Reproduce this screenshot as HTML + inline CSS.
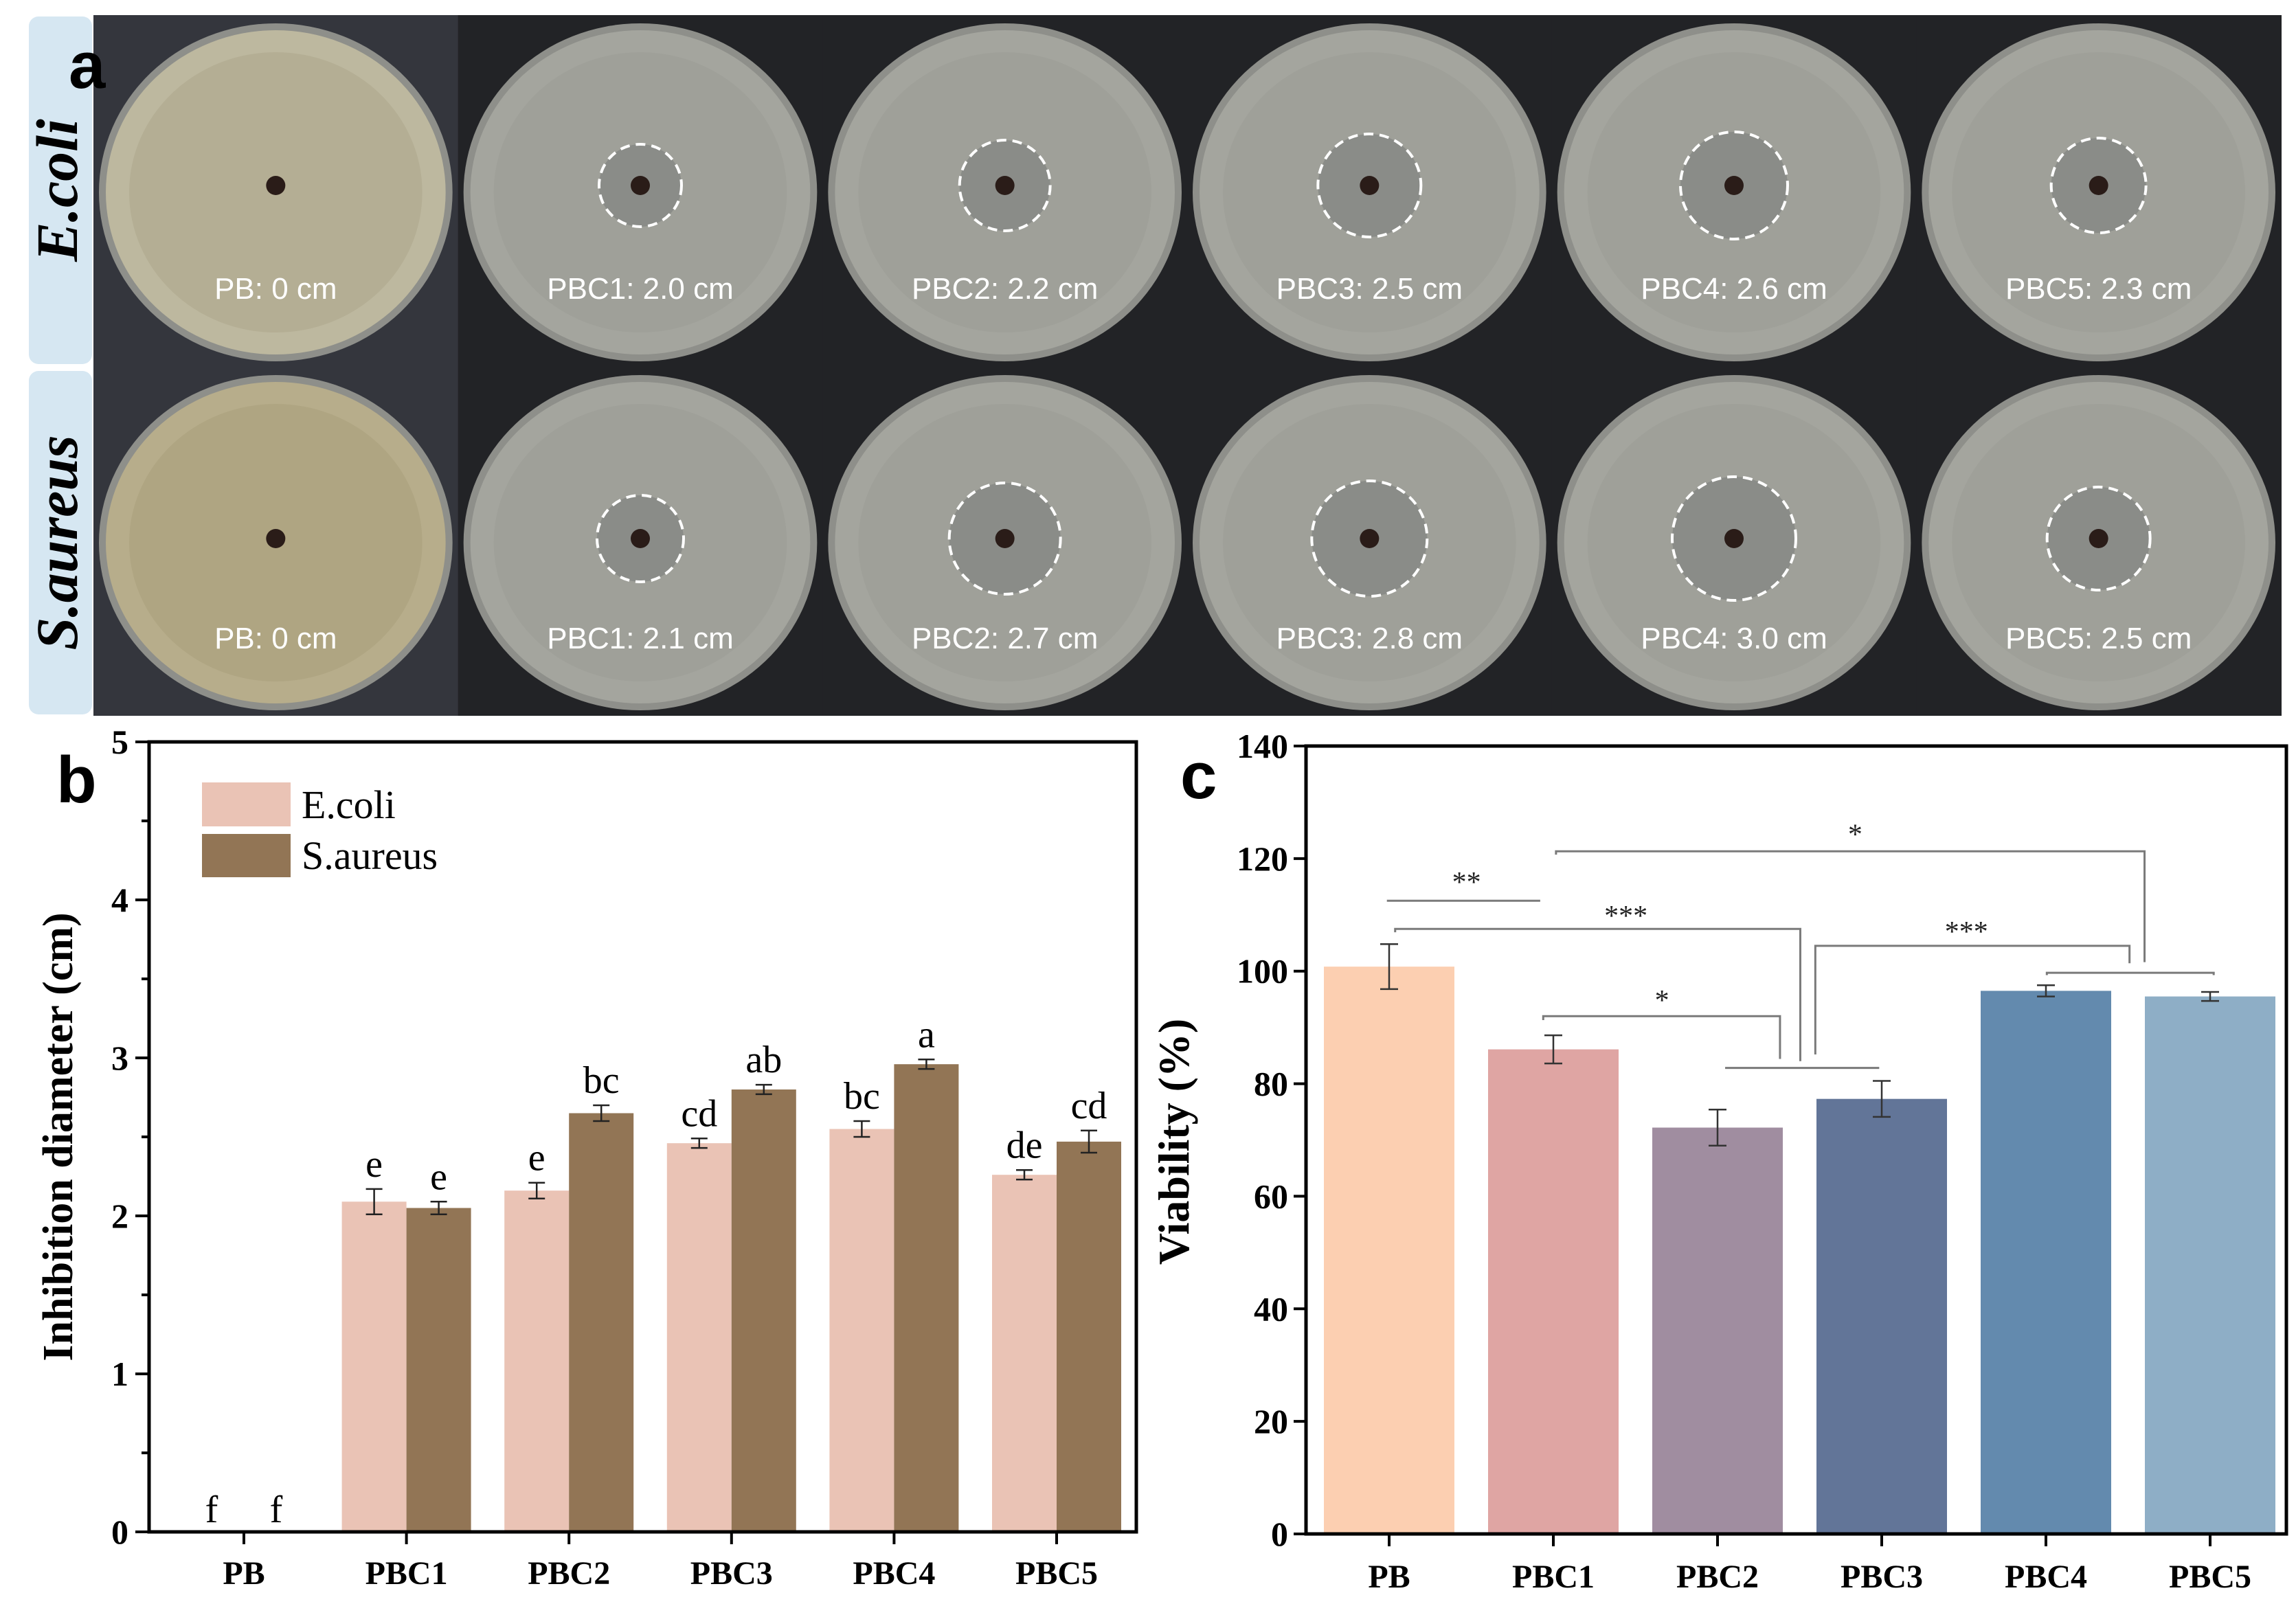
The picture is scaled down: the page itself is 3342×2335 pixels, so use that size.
<!DOCTYPE html>
<html><head><meta charset="utf-8">
<style>
html,body{margin:0;padding:0;background:#fff;}
svg{display:block;}
.serif{font-family:"Liberation Serif",serif;}
.sans{font-family:"Liberation Sans",sans-serif;}
</style></head>
<body>
<svg id="fig" width="3342" height="2335" viewBox="0 0 3342 2335" xmlns="http://www.w3.org/2000/svg">
<rect x="0" y="0" width="3342" height="2335" fill="#fff"/>
<g id="panelA"></g>
<g id="panelB" class="serif"></g>
<g id="panelC" class="serif"></g>
</svg>
<script>
// ---------- Panel a data ----------
const plateSamples = ["PB","PBC1","PBC2","PBC3","PBC4","PBC5"];
const ecoliZone = [0, 2.0, 2.2, 2.5, 2.6, 2.3];
const aureusZone = [0, 2.1, 2.7, 2.8, 3.0, 2.5];

// ---------- Panel b data ----------
const bCategories = ["PB","PBC1","PBC2","PBC3","PBC4","PBC5"];
const bEcoli = [0, 2.09, 2.16, 2.46, 2.55, 2.26];
const bEcoliErr = [0, 0.08, 0.05, 0.03, 0.05, 0.03];
const bAureus = [0, 2.05, 2.65, 2.80, 2.96, 2.47];
const bAureusErr = [0, 0.04, 0.05, 0.03, 0.03, 0.07];
const bEcoliLetters = ["f","e","e","cd","bc","de"];
const bAureusLetters = ["f","e","bc","ab","a","cd"];
const bTicks = [0,1,2,3,4,5];

// ---------- Panel c data ----------
const cCategories = ["PB","PBC1","PBC2","PBC3","PBC4","PBC5"];
const cViability = [100.8, 86.1, 72.2, 77.3, 96.5, 95.5];
const cViabilityErr = [4.0, 2.5, 3.2, 3.2, 1.0, 0.8];
const cTicks = [0,20,40,60,80,100,120,140];

const NS = "http://www.w3.org/2000/svg";
function mk(parent, tag, attrs, txt){
  const e = document.createElementNS(NS, tag);
  for (const k in attrs) e.setAttribute(k, attrs[k]);
  if (txt !== undefined) e.textContent = txt;
  parent.appendChild(e);
  return e;
}

// ================= Panel A =================
(function(){
  const g = document.getElementById('panelA');
  const strip1 = mk(g,'rect',{x:42,y:24,width:92,height:506,rx:14,fill:'#d6e7f2'});
  
  
  const strip2 = mk(g,'rect',{x:42,y:540,width:92,height:500,rx:14,fill:'#d6e7f2'});
  
  
  const l1 = mk(g,'text',{class:'serif',transform:'translate(112,277) rotate(-90)','text-anchor':'middle','font-size':86,'font-weight':'bold','font-style':'italic',fill:'#000'},'E.coli');
  
  
  const l2 = mk(g,'text',{class:'serif',transform:'translate(112,790) rotate(-90)','text-anchor':'middle','font-size':86,'font-weight':'bold','font-style':'italic',fill:'#000'},'S.aureus');
  
  

  const x0 = 136, x1 = 3320, tw = (x1-x0)/6;
  const rows = [{y:22,h:512,zones:ecoliZone,name:'ecoli'},{y:534,h:508,zones:aureusZone,name:'saureus'}];
  rows.forEach((r,ri)=>{
    plateSamples.forEach((s,i)=>{
      const tx = x0 + i*tw;
      const tile = mk(g,'g',{});
      
      
      mk(tile,'rect',{x:tx,y:r.y,width:tw+1,height:r.h,fill: i===0 ? '#34363d' : '#222326'});
      const cx = tx + tw/2, cy = r.y + r.h/2 + 2;
      let dish = '#a4a59e', inner = '#9fa099';
      if (i===0){ dish = ri===0 ? '#bdb89f' : '#b7ad8b'; inner = ri===0 ? '#b4ae94' : '#afa582'; }
      mk(tile,'ellipse',{cx:cx,cy:cy,rx:tw/2-8,ry:r.h/2-10,fill:'#8e8f8a'});
      mk(tile,'ellipse',{cx:cx,cy:cy,rx:tw/2-18,ry:r.h/2-20,fill:dish});
      mk(tile,'ellipse',{cx:cx,cy:cy,rx:tw/2-52,ry:r.h/2-52,fill:inner});
      const hy = r.y + (ri===0 ? 248 : 250);
      if (r.zones[i] > 0){
        const zr = r.zones[i]*30;
        mk(tile,'circle',{cx:cx,cy:hy,r:zr,fill:'#8a8c88'});
        mk(tile,'circle',{cx:cx,cy:hy,r:zr,fill:'none',stroke:'#fff','stroke-width':4,'stroke-dasharray':'14 9'});
      }
      mk(tile,'circle',{cx:cx,cy:hy,r:14,fill:'#2a1c18'});
      const lbl = mk(tile,'text',{class:'sans',x:cx,y:r.y+(ri===0?413:410),'text-anchor':'middle','font-size':44,fill:'#fff'}, s+': '+(r.zones[i]===0?'0':r.zones[i].toFixed(1))+' cm');
      
      
    });
  });
  const a = mk(g,'text',{class:'sans',x:100,y:128,'font-size':96,'font-weight':'bold',fill:'#000'},'a');
  
  
})();

// ================= Panel B =================
(function(){
  const g = document.getElementById('panelB');
  const L=217, R=1654, T=1080, B=2230;
  const y = v => B - v/5*(B-T);
  const step = 236.6, first = 355;
  const xc = i => first + i*step;
  const bw = 94;
  bCategories.forEach((c,i)=>{
    const e = mk(g,'rect',{x:xc(i)-bw, y:y(bEcoli[i]), width:bw, height:B-y(bEcoli[i]), fill:'#eac3b5'});
    
    
    const s = mk(g,'rect',{x:xc(i), y:y(bAureus[i]), width:bw, height:B-y(bAureus[i]), fill:'#927555'});
    
    
  });
  bCategories.forEach((c,i)=>{
    const pairs = [[bEcoli[i],bEcoliErr[i],xc(i)-bw/2,bEcoliLetters[i],'ecoli'],[bAureus[i],bAureusErr[i],xc(i)+bw/2,bAureusLetters[i],'saureus']];
    pairs.forEach(p=>{
      if (p[1]>0){
        const eg = mk(g,'g',{stroke:'#222','stroke-width':2.5});
        
        
        mk(eg,'line',{x1:p[2],x2:p[2],y1:y(p[0]+p[1]),y2:y(p[0]-p[1])});
        mk(eg,'line',{x1:p[2]-12,x2:p[2]+12,y1:y(p[0]+p[1]),y2:y(p[0]+p[1])});
        mk(eg,'line',{x1:p[2]-12,x2:p[2]+12,y1:y(p[0]-p[1]),y2:y(p[0]-p[1])});
      }
      const ly = p[0]>0 ? y(p[0]+p[1]) - 18 : B - 14;
      const t = mk(g,'text',{x:p[2],y:ly,'text-anchor':'middle','font-size':56,fill:'#000'},p[3]);
      
      
    });
  });
  const frame = mk(g,'rect',{x:L,y:T,width:R-L,height:B-T,fill:'none',stroke:'#000','stroke-width':5});
  
  
  bTicks.forEach(v=>{
    mk(g,'line',{x1:L-20,x2:L,y1:y(v),y2:y(v),stroke:'#000','stroke-width':4});
    if (v<5) mk(g,'line',{x1:L-11,x2:L,y1:y(v+0.5),y2:y(v+0.5),stroke:'#000','stroke-width':4});
    const t = mk(g,'text',{x:L-30,y:y(v)+17,'text-anchor':'end','font-size':50,'font-weight':'bold',fill:'#000'},String(v));
    
    
  });
  bCategories.forEach((c,i)=>{
    mk(g,'line',{x1:xc(i),x2:xc(i),y1:B,y2:B+18,stroke:'#000','stroke-width':4});
    const t = mk(g,'text',{x:xc(i),y:B+76,'text-anchor':'middle','font-size':48,'font-weight':'bold',fill:'#000'},c);
    
    
  });
  const yl = mk(g,'text',{transform:'translate(105,1655) rotate(-90)','text-anchor':'middle','font-size':62,'font-weight':'bold',fill:'#000'},'Inhibition diameter (cm)');
  
  
  const lg = mk(g,'g',{});
  
  
  const le1 = mk(lg,'rect',{x:294,y:1139,width:129,height:64,fill:'#eac3b5'});
  
  
  const le2 = mk(lg,'rect',{x:294,y:1214,width:129,height:63,fill:'#927555'});
  
  
  const lt1 = mk(lg,'text',{x:439,y:1191,'font-size':58,fill:'#000'},'E.coli');
  
  
  const lt2 = mk(lg,'text',{x:439,y:1265,'font-size':58,fill:'#000'},'S.aureus');
  
  
  const b = mk(g,'text',{class:'sans',x:82,y:1168,'font-size':96,'font-weight':'bold',fill:'#000'},'b');
  
  
})();

// ================= Panel C =================
(function(){
  const g = document.getElementById('panelC');
  const L=1901, R=3328, T=1086, B=2233;
  const y = v => B - v/140*(B-T);
  const step = 239, first = 2022;
  const xc = i => first + i*step;
  const bw = 190;
  const colors = ['#fccfb1','#dfa5a3','#a08da0','#627598','#638aae','#8eaec6'];
  cCategories.forEach((c,i)=>{
    const r = mk(g,'rect',{x:xc(i)-bw/2,y:y(cViability[i]),width:bw,height:B-y(cViability[i]),fill:colors[i]});
    
    
    const eg = mk(g,'g',{stroke:'#333','stroke-width':2.5});
    
    
    const hi = y(cViability[i]+cViabilityErr[i]), lo = y(cViability[i]-cViabilityErr[i]);
    mk(eg,'line',{x1:xc(i),x2:xc(i),y1:hi,y2:lo});
    mk(eg,'line',{x1:xc(i)-13,x2:xc(i)+13,y1:hi,y2:hi});
    mk(eg,'line',{x1:xc(i)-13,x2:xc(i)+13,y1:lo,y2:lo});
  });
  const zx = v => v/0.914 + 1650;
  const brackets = [
    {pts:[[337,112.5],[541,112.5]], star:'**', sx:443, sy:116.8},
    {pts:[[348,106.9],[348,107.5],[887,107.5],[887,84]], star:'***', sx:655, sy:110.8},
    {pts:[[562,120.7],[562,121.3],[1345,121.3],[1345,101.6]], star:'*', sx:960, sy:125.3},
    {pts:[[545,91.3],[545,92],[860,92],[860,84.4]], star:'*', sx:703, sy:95.8},
    {pts:[[787,82.8],[992,82.8]], star:'', sx:0, sy:0},
    {pts:[[907,85.2],[907,104.5],[1325,104.5],[1325,101.4]], star:'***', sx:1108, sy:108},
    {pts:[[1215,99.3],[1215,99.7],[1437,99.7],[1437,99.3]], star:'', sx:0, sy:0}
  ];
  brackets.forEach((bk,k)=>{
    const pl = mk(g,'polyline',{points:bk.pts.map(p=>zx(p[0])+','+y(p[1])).join(' '),fill:'none',stroke:'#7a7a7a','stroke-width':3});
    
    
    if (bk.star){
      const t = mk(g,'text',{x:zx(bk.sx),y:y(bk.sy)+22,'text-anchor':'middle','font-size':42,fill:'#222'},bk.star);
      
      
    }
  });
  const frame = mk(g,'rect',{x:L,y:T,width:R-L,height:B-T,fill:'none',stroke:'#000','stroke-width':5});
  
  
  cTicks.forEach(v=>{
    mk(g,'line',{x1:L-18,x2:L,y1:y(v),y2:y(v),stroke:'#000','stroke-width':4});
    const t = mk(g,'text',{x:L-26,y:y(v)+17,'text-anchor':'end','font-size':50,'font-weight':'bold',fill:'#000'},String(v));
    
    
  });
  cCategories.forEach((c,i)=>{
    mk(g,'line',{x1:xc(i),x2:xc(i),y1:B,y2:B+18,stroke:'#000','stroke-width':4});
    const t = mk(g,'text',{x:xc(i),y:B+78,'text-anchor':'middle','font-size':48,'font-weight':'bold',fill:'#000'},c);
    
    
  });
  const yl = mk(g,'text',{transform:'translate(1730,1662) rotate(-90)','text-anchor':'middle','font-size':64,'font-weight':'bold',fill:'#000'},'Viability (%)');
  
  
  const c = mk(g,'text',{class:'sans',x:1718,y:1162,'font-size':96,'font-weight':'bold',fill:'#000'},'c');
  
  
})();
</script>
</body></html>
